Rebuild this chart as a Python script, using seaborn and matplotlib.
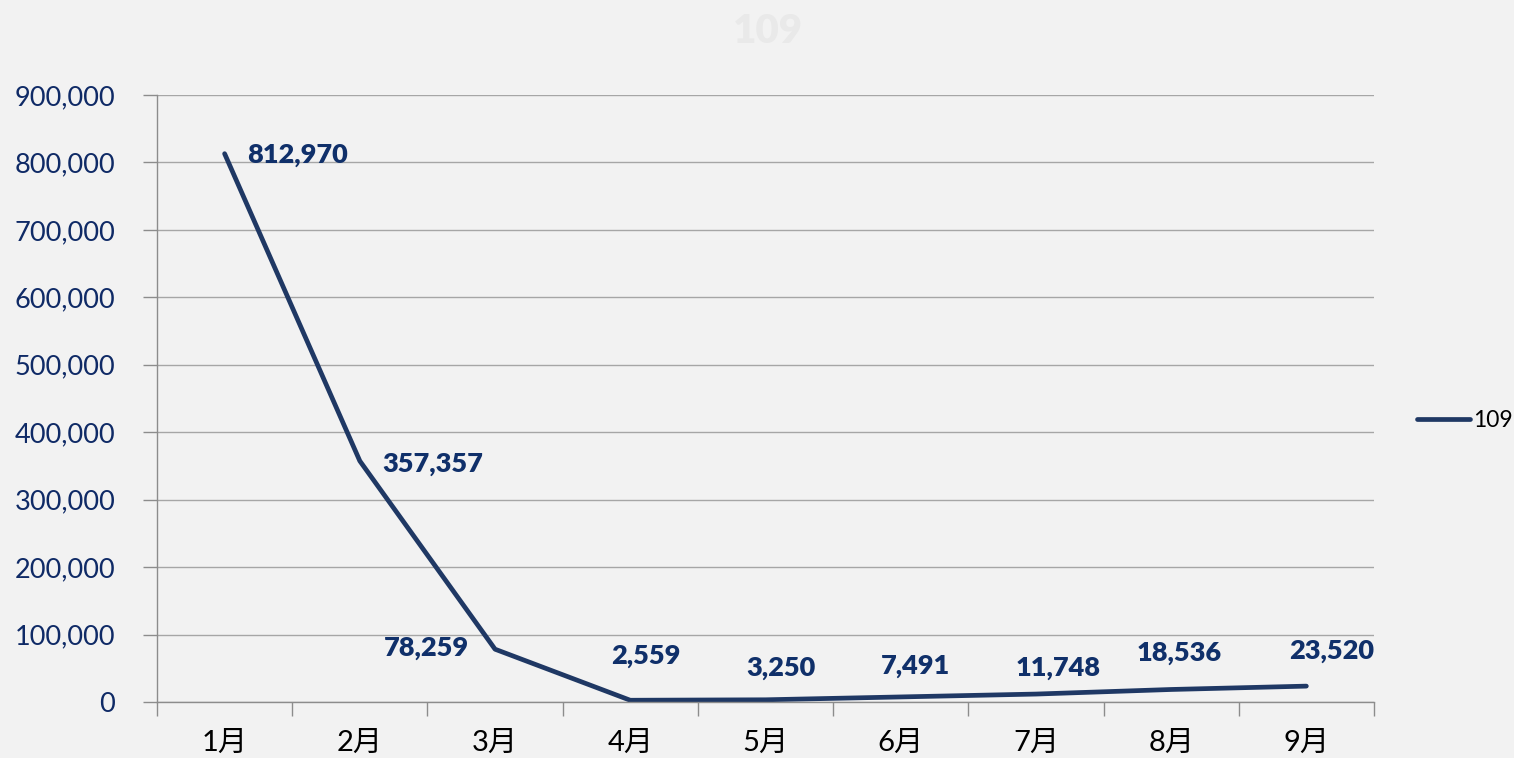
import matplotlib
matplotlib.use("Agg")
import matplotlib.pyplot as plt
import seaborn as sns
import pandas as pd
from matplotlib.ticker import FixedLocator, FuncFormatter, NullFormatter

months = ["1月", "2月", "3月", "4月", "5月", "6月", "7月", "8月", "9月"]
values = [812970, 357357, 78259, 2559, 3250, 7491, 11748, 18536, 23520]
series_name = "109"
y_ticks = [0, 100000, 200000, 300000, 400000, 500000, 600000, 700000, 800000, 900000]

# label placement (offset in points, horizontal alignment)
label_offsets = [(16, -1), (16, -2), (-19, 1), (11, 32), (11, 23), (11, 22), (16, 19), (6, 26), (18, 25)]
label_ha = ["left", "left", "right", "center", "center", "center", "center", "center", "center"]

sns.set_theme(style="white")
plt.rcParams["font.family"] = ["Lato", "Noto Sans CJK SC", "DejaVu Sans"]

navy = "#1f3864"
label_navy = "#10306a"
bg = "#f2f2f2"

df = pd.DataFrame({"idx": range(len(months)), "month": months, "value": values})

fig = plt.figure(figsize=(15.14, 7.58), dpi=100, facecolor=bg)
ax = fig.add_axes([0.1037, 0.0739, 0.8038, 0.8008])
ax.set_facecolor("none")

sns.lineplot(data=df, x="idx", y="value", ax=ax, color=navy, linewidth=3.4,
             label=series_name, solid_capstyle="round", solid_joinstyle="round")

ax.set_xlim(-0.5, len(months) - 0.5)
ax.set_ylim(0, 900000)

# y axis
ax.set_yticks(y_ticks)
ax.yaxis.set_major_formatter(FuncFormatter(lambda v, p: f"{int(v):,}"))
ax.tick_params(axis="y", direction="out", length=10, width=1, color="#8c8c8c",
               labelsize=19.5, labelcolor="#0f2a66", pad=20, left=True)
ax.grid(axis="y", color="#a6a6a6", linewidth=1)
ax.grid(axis="x", visible=False)

# x axis: ticks at category boundaries, labels at centers
ax.xaxis.set_major_locator(FixedLocator([i - 0.5 for i in range(len(months) + 1)]))
ax.xaxis.set_major_formatter(NullFormatter())
ax.set_xticks(list(range(len(months))), minor=True)
ax.set_xticklabels(months, minor=True)
ax.tick_params(axis="x", which="major", direction="out", length=10, width=1,
               color="#8c8c8c", bottom=True)
ax.tick_params(axis="x", which="minor", length=0, labelsize=21,
               labelcolor="black", pad=20, bottom=True)

for s in ["top", "right"]:
    ax.spines[s].set_visible(False)
for s in ["left", "bottom"]:
    ax.spines[s].set_color("#8c8c8c")
    ax.spines[s].set_linewidth(1)

ax.set_xlabel("")
ax.set_ylabel("")

for i, v in enumerate(values):
    dx, dy = label_offsets[i]
    ax.annotate(f"{v:,}", xy=(i, v), xytext=(dx, dy), textcoords="offset points",
                ha=label_ha[i], va="center", fontsize=19.5, fontweight="heavy",
                color=label_navy)

# title (faint)
fig.text(0.507, 0.958, series_name, ha="center", va="center", fontsize=29,
         fontweight="heavy", color="#e9e9e9")

leg = ax.legend(loc="center left", bbox_to_anchor=(1.0, 0.463), frameon=False,
                handlelength=2.3, handletextpad=0.12, fontsize=16.5,
                borderpad=0.2, borderaxespad=1.7)
for t in leg.get_texts():
    t.set_color("black")

fig.savefig("out.png", dpi=100, facecolor=bg)
